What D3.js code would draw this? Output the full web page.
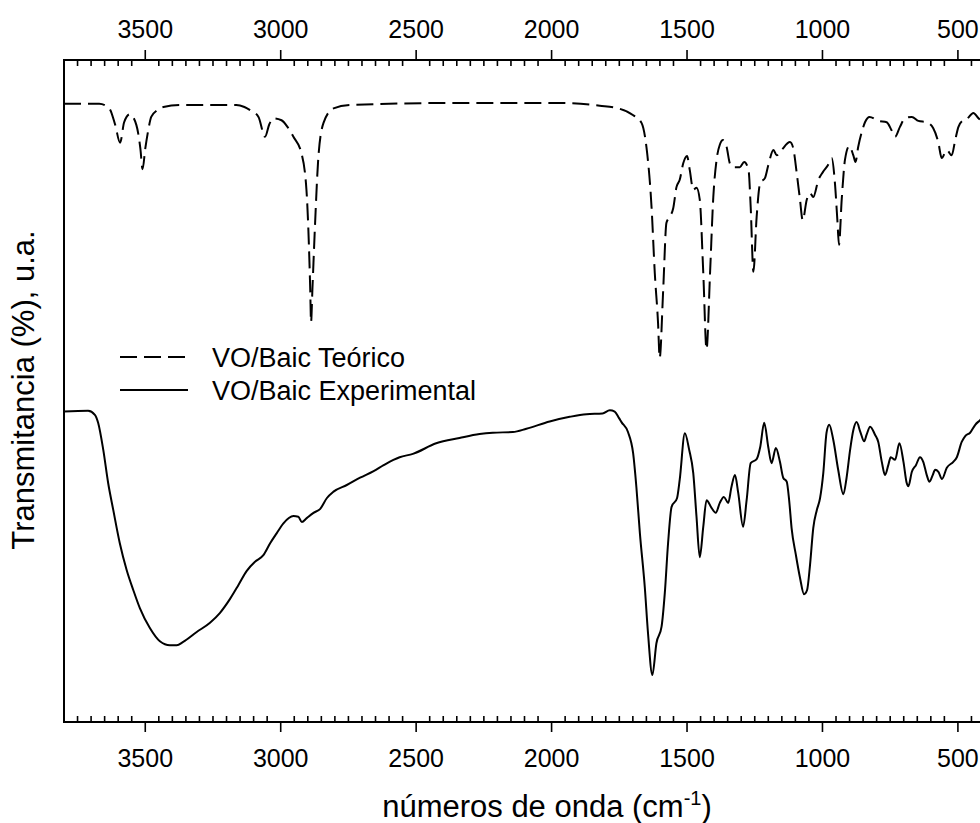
<!DOCTYPE html>
<html>
<head>
<meta charset="utf-8">
<script src="https://cdn.jsdelivr.net/npm/d3@7"></script>
<style>
  html, body { margin: 0; padding: 0; background: #fff; }
  svg { display: block; font-family: "Liberation Sans", Arial, sans-serif; }
</style>
</head>
<body>
<svg id="chart" width="980" height="823"></svg>
<script>
// ---- Data ----
const xTickLabels = [3500, 3000, 2500, 2000, 1500, 1000, 500];
const seriesNames = ["VO/Baic Teórico", "VO/Baic Experimental"];

const theoWavenumber = [3800, 3670, 3633, 3611, 3593, 3578, 3557, 3533, 3518, 3510, 3500, 3489, 3478, 3456, 3433, 3374,
  3164, 3134, 3112, 3082, 3058, 3042, 3027, 2997, 2975, 2953, 2924, 2905, 2891, 2888, 2883, 2873, 2861, 2842, 2805, 2746,
  2377, 1970, 1822, 1755, 1700, 1668, 1650, 1631, 1619, 1607, 1601, 1588, 1576, 1564, 1551, 1539, 1527, 1514, 1500, 1490,
  1477, 1465, 1453, 1440, 1428, 1415, 1403, 1391, 1379, 1367, 1354, 1342, 1330, 1305, 1289, 1273, 1265, 1255, 1243, 1230,
  1212, 1200, 1181, 1169, 1151, 1120, 1108, 1095, 1083, 1073, 1058, 1046, 1034, 1015, 998, 980, 966, 954, 945, 939, 929,
  917, 901, 886, 878, 868, 855, 843, 826, 794, 763, 745, 732, 714, 695, 670, 646, 615, 591, 572, 560, 541, 523, 510, 498,
  480, 467, 443, 424, 400];
const theoTransmittance = [93.4, 93.4, 92.7, 90.2, 87.5, 90.6, 91.8, 90.2, 86.6, 83.5, 86.6, 89.4, 91.4, 92.4, 92.9, 93.2,
  93.2, 92.9, 92.4, 91.4, 88.4, 90.3, 91.2, 90.9, 89.9, 88.4, 86.0, 80.4, 65.3, 60.4, 65.3, 75.4, 85.3, 90.5, 92.7, 93.2,
  93.5, 93.5, 93.1, 92.7, 91.7, 90.5, 86.9, 77.8, 67.8, 60.3, 55.0, 65.3, 75.4, 76.3, 77.6, 80.8, 81.9, 84.4, 85.5, 83.4,
  80.4, 80.7, 78.9, 67.8, 56.3, 67.8, 79.3, 84.9, 87.2, 87.9, 86.9, 84.4, 83.8, 83.8, 84.6, 83.4, 77.8, 68.0, 76.3, 81.4,
  82.2, 84.1, 86.4, 85.6, 86.4, 87.6, 86.7, 82.9, 78.9, 75.8, 78.9, 79.9, 79.3, 81.9, 83.1, 84.1, 85.2, 81.4, 75.8, 72.1, 78.9,
  84.9, 87.0, 85.6, 84.6, 86.9, 89.1, 90.6, 91.4, 90.8, 90.6, 89.4, 88.4, 89.9, 91.2, 91.4, 90.8, 90.6, 89.7, 87.5, 85.2, 86.4, 85.6, 87.9, 89.9,
  90.9, 91.1, 92.0, 91.2, 90.2];

const expWavenumber = [3800, 3711, 3686, 3674, 3655, 3637, 3618, 3594, 3569, 3544, 3520, 3483, 3446, 3409, 3384, 3360,
  3310, 3261, 3224, 3187, 3156, 3126, 3095, 3064, 3039, 3015, 2990, 2953, 2935, 2922, 2904, 2879, 2854, 2830, 2805, 2756,
  2707, 2657, 2620, 2584, 2561, 2512, 2426, 2340, 2266, 2217, 2143, 2093, 2007, 1933, 1871, 1812, 1785, 1767, 1751, 1742,
  1718, 1699, 1687, 1674, 1656, 1644, 1628, 1613, 1594, 1582, 1570, 1557, 1537, 1527, 1508, 1492, 1477, 1465, 1453, 1440,
  1428, 1409, 1394, 1379, 1364, 1348, 1336, 1323, 1311, 1293, 1280, 1265, 1243, 1230, 1215, 1200, 1188, 1172, 1157, 1145,
  1132, 1123, 1114, 1098, 1083, 1068, 1057, 1046, 1034, 1021, 1009, 997, 985, 975, 960, 942, 923, 911, 898, 886, 874, 860,
  846, 837, 824, 806, 794, 781, 769, 757, 748, 732, 716, 701, 689, 683, 670, 655, 640, 628, 615, 605, 593, 584, 572, 559,
  541, 517, 504, 486, 473, 455, 436, 418, 400];
const expTransmittance = [46.9, 47.0, 46.4, 45.2, 41.1, 36.1, 32.0, 27.0, 23.0, 19.9, 17.2, 14.2, 12.2, 11.6, 11.6, 12.1,
  13.6, 15.0, 16.5, 18.6, 20.7, 22.8, 24.2, 25.2, 27.0, 28.5, 30.0, 31.1, 31.0, 30.2, 30.8, 31.6, 32.2, 33.8, 34.8, 35.8,
  36.9, 37.9, 38.8, 39.6, 40.0, 40.5, 42.1, 42.9, 43.5, 43.7, 43.8, 44.3, 45.4, 46.1, 46.5, 46.6, 47.1, 46.9, 45.9, 45.3,
  43.8, 40.6, 35.5, 28.5, 20.4, 13.4, 7.1, 11.9, 14.4, 19.5, 27.0, 32.5, 33.8, 36.6, 43.6, 41.1, 37.6, 31.0, 24.9, 29.5,
  33.5, 32.3, 31.6, 33.1, 34.0, 33.1, 35.5, 37.3, 34.6, 29.5, 33.5, 39.1, 39.7, 41.5, 45.2, 41.5, 39.1, 41.4, 39.3, 36.9,
  36.3, 33.5, 29.3, 25.2, 21.8, 19.3, 19.9, 23.7, 29.3, 32.0, 33.8, 37.6, 43.7, 44.9, 42.6, 38.1, 34.4, 36.9, 41.1, 44.1, 45.3, 43.8,
  42.4, 43.4, 44.6, 43.4, 42.3, 39.3, 37.3, 38.8, 40.0, 39.6, 42.1, 39.3, 36.1, 35.6, 37.8, 38.8, 40.0, 39.3, 37.3, 36.3, 37.3, 38.1, 37.8, 36.7,
  38.4, 39.3, 40.0, 42.3, 43.2, 43.7, 44.9, 45.6, 46.4];

// ---- Layout ----
const svg = d3.select("#chart");
const mLeft = 64, mRight = 985, mTop = 60, mBottom = 722;

const x = d3.scaleLinear().domain([3800, 400]).range([mLeft, mRight]);
const y = d3.scaleLinear().domain([0, 100]).range([mBottom, mTop]);

svg.append("defs").append("clipPath").attr("id", "plotclip")
  .append("rect").attr("x", mLeft).attr("y", mTop).attr("width", mRight - mLeft).attr("height", mBottom - mTop);

const minorTicks = d3.range(3800, 399, -50).filter(v => v % 500 !== 0);
const majorTicks = xTickLabels;

// frame
const frame = svg.append("g").attr("stroke", "#000").attr("stroke-width", 2).attr("fill", "none");
frame.append("line").attr("x1", mLeft).attr("x2", mRight).attr("y1", mTop).attr("y2", mTop);
frame.append("line").attr("x1", mLeft).attr("x2", mRight).attr("y1", mBottom).attr("y2", mBottom);
frame.append("line").attr("x1", mLeft).attr("x2", mLeft).attr("y1", mTop - 1).attr("y2", mBottom + 1);
frame.append("line").attr("x1", mRight).attr("x2", mRight).attr("y1", mTop).attr("y2", mBottom);

// ticks
const ticks = svg.append("g").attr("stroke", "#000");
ticks.selectAll(".mt").data(minorTicks).join("line")
  .attr("x1", d => x(d)).attr("x2", d => x(d)).attr("y1", mTop).attr("y2", mTop + 6).attr("stroke-width", 1.6);
ticks.selectAll(".mb").data(minorTicks).join("line")
  .attr("x1", d => x(d)).attr("x2", d => x(d)).attr("y1", mBottom).attr("y2", mBottom - 6).attr("stroke-width", 1.6);
ticks.selectAll(".Mt").data(majorTicks).join("line")
  .attr("x1", d => x(d)).attr("x2", d => x(d)).attr("y1", mTop).attr("y2", mTop - 10).attr("stroke-width", 1.6);
ticks.selectAll(".Mb").data(majorTicks).join("line")
  .attr("x1", d => x(d)).attr("x2", d => x(d)).attr("y1", mBottom).attr("y2", mBottom + 10).attr("stroke-width", 1.6);

// tick labels
const lab = svg.append("g").attr("font-size", 25).attr("fill", "#000").attr("text-anchor", "middle");
lab.selectAll(".lt").data(majorTicks).join("text")
  .attr("x", d => x(d)).attr("y", 38).text(d => d);
lab.selectAll(".lb").data(majorTicks).join("text")
  .attr("x", d => x(d)).attr("y", 767).text(d => d);

// axis titles
const xt = svg.append("text").attr("x", 547).attr("y", 817).attr("text-anchor", "middle")
  .attr("font-size", 31).attr("fill", "#000");
xt.append("tspan").text("números de onda (cm");
xt.append("tspan").attr("font-size", 20).attr("dy", -12).text("-1");
xt.append("tspan").attr("dy", 12).text(")");

svg.append("text").attr("transform", "translate(34,390) rotate(-90)").attr("text-anchor", "middle")
  .attr("font-size", 31).attr("fill", "#000").text("Transmitancia (%), u.a.");

// curves
const line = d3.line().x(d => x(d[0])).y(d => y(d[1])).curve(d3.curveMonotoneX);
const plot = svg.append("g").attr("clip-path", "url(#plotclip)");
plot.append("path").datum(d3.zip(theoWavenumber, theoTransmittance))
  .attr("d", line).attr("fill", "none").attr("stroke", "#000").attr("stroke-width", 2)
  .attr("stroke-dasharray", "17,7");
plot.append("path").datum(d3.zip(expWavenumber, expTransmittance))
  .attr("d", line).attr("fill", "none").attr("stroke", "#000").attr("stroke-width", 2);

// legend
const lg = svg.append("g");
const rows = [{name: seriesNames[0], dash: "17,7", yy: 357}, {name: seriesNames[1], dash: null, yy: 390}];
rows.forEach(r => {
  lg.append("line").attr("x1", 120).attr("x2", 188).attr("y1", r.yy).attr("y2", r.yy)
    .attr("stroke", "#000").attr("stroke-width", 2).attr("stroke-dasharray", r.dash);
  lg.append("text").attr("x", 212).attr("y", r.yy + 10).attr("font-size", 27).attr("fill", "#000").text(r.name);
});
</script>
</body>
</html>
